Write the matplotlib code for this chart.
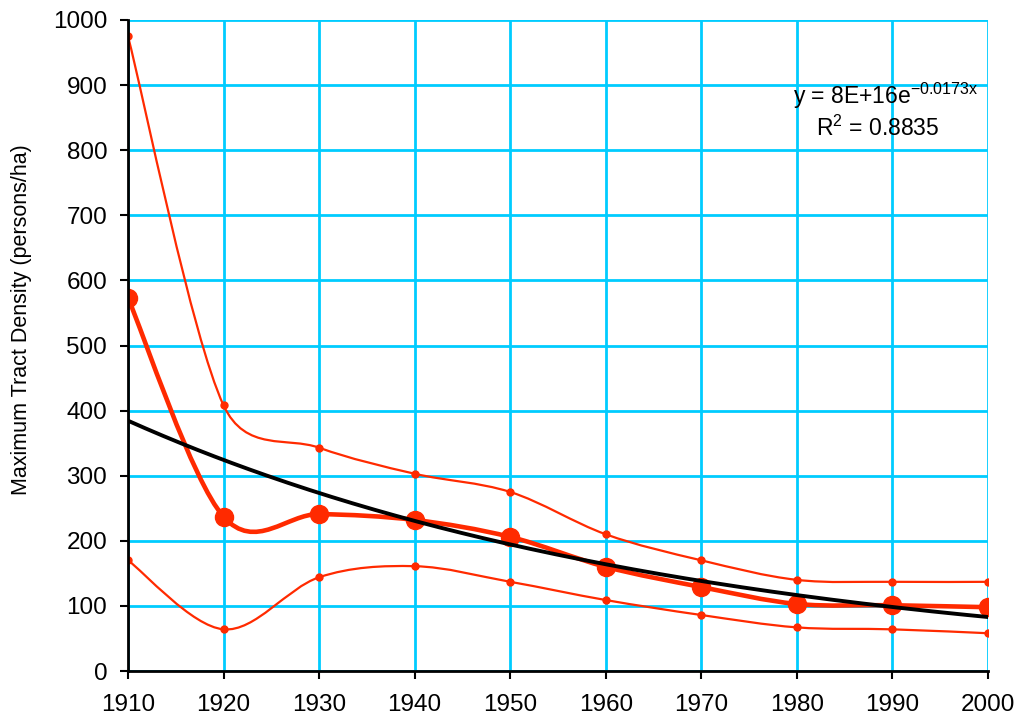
import numpy as np
import matplotlib
matplotlib.use("Agg")
import matplotlib.pyplot as plt
from matplotlib.path import Path
from matplotlib.patches import PathPatch

years = [1910, 1920, 1930, 1940, 1950, 1960, 1970, 1980, 1990, 2000]
upper = [975, 408, 343, 303, 275, 210, 170, 140, 137, 137]
median = [573, 237, 241, 232, 206, 160, 129, 103, 101, 98]
lower = [170, 64, 144, 161, 137, 109, 86, 67, 64, 58]

RED = "#FF2A00"
CYAN = "#00CCFF"

plt.rcParams['font.family'] = ['Liberation Sans', 'DejaVu Sans']

fig = plt.figure(figsize=(10.19, 7.19), dpi=100)
ax = fig.add_axes([128/1019, 48/719, 860/1019, 651/719])
ax.set_xlim(1910, 2000)
ax.set_ylim(0, 1000)


def excel_smooth_path(xs, ys):
    """Excel-style smoothed line (Bezier) computed in display space."""
    P = ax.transData.transform(np.column_stack([xs, ys]).astype(float))
    n = len(P)
    verts = [P[0]]
    codes = [Path.MOVETO]
    for i in range(n - 1):
        p0 = P[i - 1] if i > 0 else P[i]
        p1 = P[i]
        p2 = P[i + 1]
        p3 = P[i + 2] if i + 2 < n else P[i + 1]
        d02 = np.hypot(*(p2 - p0))
        d12 = np.hypot(*(p2 - p1))
        d13 = np.hypot(*(p3 - p1))
        f1 = 1/6 if d02 / 6 < d12 / 2 else (d12 / (2 * d02) if d02 > 0 else 0)
        f2 = 1/6 if d13 / 6 < d12 / 2 else (d12 / (2 * d13) if d13 > 0 else 0)
        c1 = p1 + (p2 - p0) * f1
        c2 = p2 - (p3 - p1) * f2
        verts += [c1, c2, p2]
        codes += [Path.CURVE4] * 3
    verts = ax.transData.inverted().transform(np.array(verts))
    return Path(verts, codes)


for series, lw, ms in [(upper, 1.6, 5), (lower, 1.6, 5), (median, 3.3, 13)]:
    ax.add_patch(PathPatch(excel_smooth_path(years, series), fill=False,
                           edgecolor=RED, lw=lw, zorder=3, capstyle='round',
                           joinstyle='round'))
    ax.plot(years, series, 'o', color=RED, ms=ms, mec=RED, zorder=4)

# exponential trendline fitted to the middle series
b, a = np.polyfit(years, np.log(median), 1)
xt = np.linspace(1910, 2000, 200)
ax.plot(xt, np.exp(a + b * xt), color='black', lw=2.8, zorder=5)

ax.set_xticks(range(1910, 2001, 10))
ax.set_yticks(range(0, 1001, 100))
ax.grid(True, color=CYAN, lw=2, zorder=1)
ax.set_axisbelow(True)
for s in ['top', 'right']:
    ax.spines[s].set_visible(False)
for s in ['left', 'bottom']:
    ax.spines[s].set_linewidth(2)
    ax.spines[s].set_color('black')
    ax.spines[s].set_zorder(6)
ax.tick_params(axis='both', labelsize=17.5, length=6, width=1.5, color='black')
ax.tick_params(axis='y', pad=9)
ax.tick_params(axis='x', pad=10.5)
ax.set_ylabel("Maximum Tract Density (persons/ha)", fontsize=15.5)
ax.yaxis.set_label_coords(-0.1116, 0.539)

ax.text(1989.3, 884, r"y = 8E+16e$\mathregular{^{-0.0173x}}$", fontsize=16.5,
        ha='center', va='center', zorder=7)
ax.text(1988.5, 834, r"R$\mathregular{^{2}}$ = 0.8835", fontsize=16.5,
        ha='center', va='center', zorder=7)

fig.savefig("out.png", dpi=100)
